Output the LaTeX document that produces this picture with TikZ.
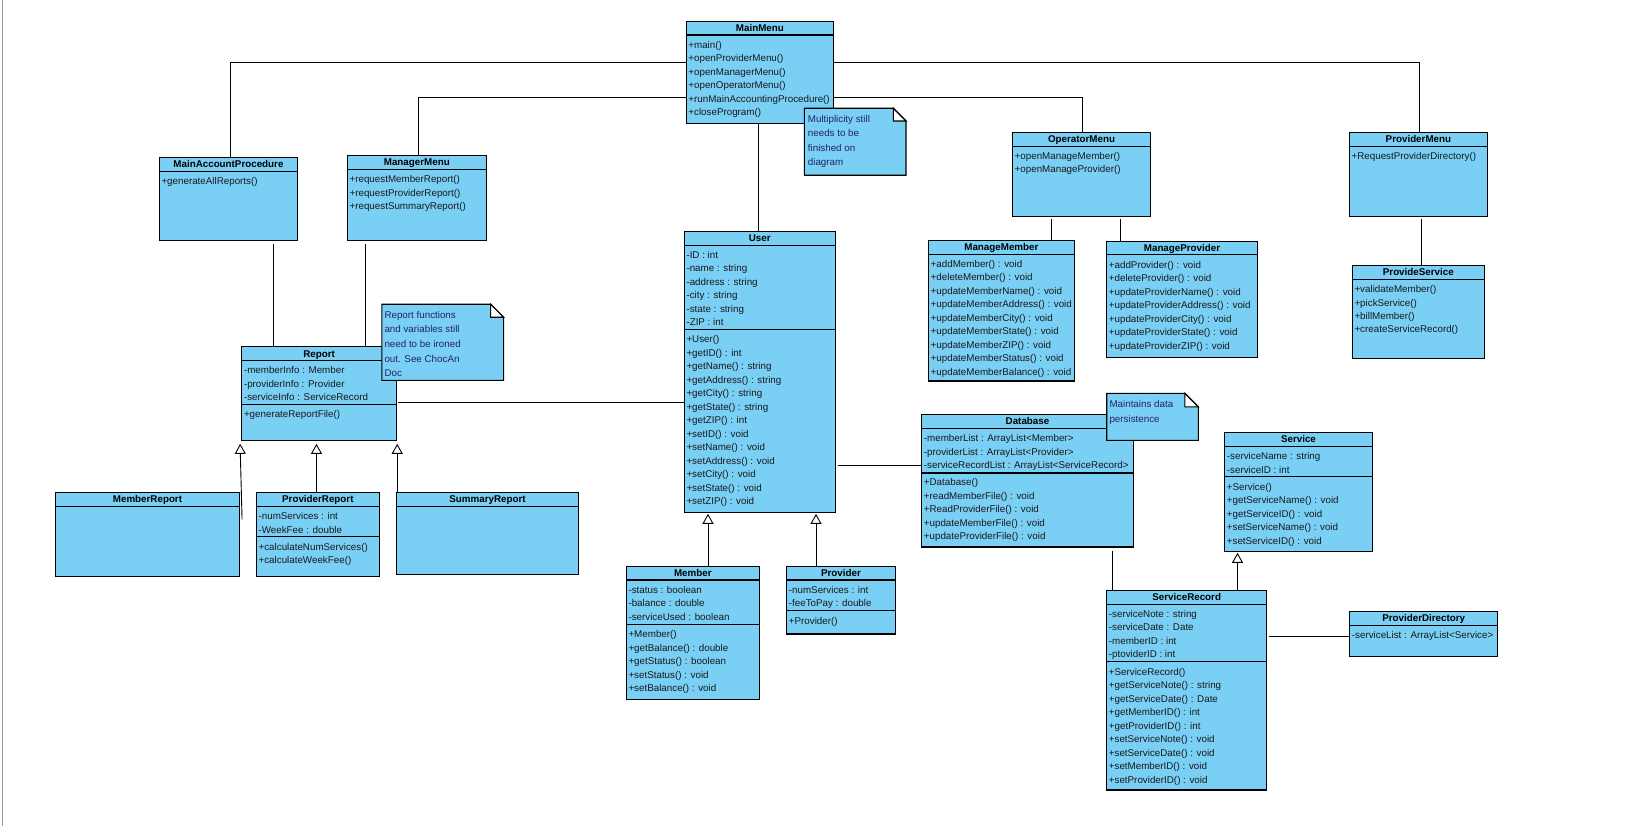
\documentclass[tikz,border=0pt]{standalone}
\usepackage{fontspec}
\setmainfont{Liberation Sans}
\usetikzlibrary{fit,arrows.meta}
\definecolor{umlblue}{RGB}{122,207,245}
\definecolor{membertxt}{RGB}{25,25,25}
\definecolor{notetxt}{RGB}{35,35,100}
\definecolor{edgegray}{RGB}{150,150,160}
\tikzset{
 clsbox/.style={draw=black, line width=1.1pt, fill=umlblue, inner sep=0pt},
 clsline/.style={draw=black, line width=1.1pt},
 ttl/.style={font=\fontsize{9.8}{12}\selectfont\bfseries, anchor=base, inner sep=0pt},
 mem/.style={font=\fontsize{9.8}{12}\selectfont, text=membertxt, anchor=base west, inner sep=0pt},
 ntxt/.style={font=\fontsize{9.8}{12}\selectfont, text=notetxt, anchor=base west, inner sep=0pt},
 notearea/.style={inner sep=0pt},
 notebox/.style={draw=black, line width=1.1pt, fill=umlblue},
 notefold/.style={draw=black, line width=1.1pt, fill=white},
 conn/.style={draw=black, line width=0.9pt},
 gen/.style={conn, shorten >=1pt, -{Triangle[open, width=11pt, length=10pt]}},
}
% name, x1, y1, x2, y2, title, header-bottom
\newcommand\umlclass[7]{%
 \node[clsbox, fit={(#2,#3) (#4,#5)}] (#1) {};
 \draw[clsline] (#2,#7) -- (#4,#7);
 \node[ttl] (#1T) at ({(#2+#4)/2},{(#3+#7)/2+3.5}) {#6};
}
\newcommand\umlsep[3]{\draw[clsline] (#1,#3) -- (#2,#3);}
% name prefix, x1, first y, list
\newcommand\umllines[4]{%
 \foreach \t [count=\i from 0] in {#4} {\node[mem] (#1\i) at (#2+2, #3+13.5*\i+3.8) {\t};}}
% name, x1, y1, x2, y2, fold
\newcommand\umlnote[6]{%
 \filldraw[notebox] (#2,#3) -- (#4-#6,#3) -- (#4,#3+#6) -- (#4,#5) -- (#2,#5) -- cycle;
 \filldraw[notefold] (#4-#6,#3) -- (#4-#6,#3+#6) -- (#4,#3+#6) -- cycle;
 \node[notearea, fit={(#2,#3) (#4,#5)}] (#1) {};
}
% name prefix, x, first y, step, list
\newcommand\notelines[5]{%
 \foreach \t [count=\i from 0] in {#5} {\node[ntxt] (#1\i) at (#2, #3+#4*\i+3.8) {\t};}}

\begin{document}
\begin{tikzpicture}[x=1pt,y=-1pt]
\useasboundingbox (0,0) rectangle (1649,826);
\fill[white] (0,0) rectangle (1649,826);
\draw[edgegray, line width=1.5pt] (2.3,0) -- (2.3,826);

% ---------- classes ----------
\umlclass{MainMenu}{686.2}{21.3}{833.6}{123.3}{MainMenu}{35}
\umllines{MainMenuM}{686.2}{44.3}{+main(),+openProviderMenu(),+openManagerMenu(),+openOperatorMenu(),+runMainAccountingProcedure(),+closeProgram()}

\umlclass{MAP}{159.3}{157.3}{297.6}{240.8}{MainAccountProcedure}{171.7}
\umllines{MAPM}{159.3}{181}{+generateAllReports()}

\umlclass{ManagerMenu}{347.4}{155.3}{486.2}{240.8}{ManagerMenu}{169.3}
\umllines{ManagerMenuM}{347.4}{179}{+requestMemberReport(),+requestProviderReport(),+requestSummaryReport()}

\umlclass{Report}{241.8}{346.7}{396.4}{440.3}{Report}{360.3}
\umllines{ReportA}{241.8}{369.7}{-memberInfo : Member,-providerInfo : Provider,-serviceInfo : ServiceRecord}
\umlsep{241.8}{396.4}{404.7}
\umllines{ReportM}{241.8}{414}{+generateReportFile()}

\umlclass{MemberReport}{55.5}{492.3}{239.5}{576.3}{MemberReport}{506.3}

\umlclass{ProviderReport}{256.4}{492.3}{379.3}{576.3}{ProviderReport}{506.3}
\umllines{ProviderReportA}{256.4}{515.7}{-numServices : int,-WeekFee : double}
\umlsep{256.4}{379.3}{536.7}
\umllines{ProviderReportM}{256.4}{546.3}{+calculateNumServices(),+calculateWeekFee()}

\umlclass{SummaryReport}{396.5}{492.3}{578.6}{574.3}{SummaryReport}{506.3}

\umlclass{User}{684.3}{231.3}{835.3}{512.3}{User}{245.3}
\umllines{UserA}{684.3}{254.3}{-ID : int,-name : string,-address : string,-city : string,-state : string,-ZIP : int}
\umlsep{684.3}{835.3}{329.3}
\umllines{UserM}{684.3}{339.1}{+User(),+getID() : int,+getName() : string,+getAddress() : string,+getCity() : string,+getState() : string,+getZIP() : int,+setID() : void,+setName() : void,+setAddress() : void,+setCity() : void,+setState() : void,+setZIP() : void}

\umlclass{Member}{626.3}{566.7}{759.3}{699.3}{Member}{580}
\umllines{MemberA}{626.3}{589.3}{-status : boolean,-balance : double,-serviceUsed : boolean}
\umlsep{626.3}{759.3}{624.3}
\umllines{MemberM}{626.3}{634}{+Member(),+getBalance() : double,+getStatus() : boolean,+setStatus() : void,+setBalance() : void}

\umlclass{Provider}{786.7}{566.7}{895.3}{634}{Provider}{580}
\umllines{ProviderA}{786.7}{589.3}{-numServices : int,-feeToPay : double}
\umlsep{786.7}{895.3}{610.7}
\umllines{ProviderM}{786.7}{620.3}{+Provider()}

\umlclass{OperatorMenu}{1012.5}{132.3}{1150.6}{216.3}{OperatorMenu}{146.3}
\umllines{OperatorMenuM}{1012.5}{155.7}{+openManageMember(),+openManageProvider()}

\umlclass{ProviderMenu}{1349.4}{132.3}{1487.4}{216.3}{ProviderMenu}{146.3}
\umllines{ProviderMenuM}{1349.4}{155.7}{+RequestProviderDirectory()}

\umlclass{ManageMember}{928.5}{240.3}{1074.3}{381}{ManageMember}{254.3}
\umllines{ManageMemberM}{928.5}{263.4}{+addMember() : void,+deleteMember() : void,+updateMemberName() : void,+updateMemberAddress() : void,+updateMemberCity() : void,+updateMemberState() : void,+updateMemberZIP() : void,+updateMemberStatus() : void,+updateMemberBalance() : void}

\umlclass{ManageProvider}{1106.7}{241.2}{1257.3}{357.7}{ManageProvider}{254.6}
\umllines{ManageProviderM}{1106.7}{264.3}{+addProvider() : void,+deleteProvider() : void,+updateProviderName() : void,+updateProviderAddress() : void,+updateProviderCity() : void,+updateProviderState() : void,+updateProviderZIP() : void}

\umlclass{ProvideService}{1352.3}{265.3}{1484.3}{358.3}{ProvideService}{279.3}
\umllines{ProvideServiceM}{1352.3}{288.7}{+validateMember(),+pickService(),+billMember(),+createServiceRecord()}

\umlclass{Database}{921.7}{414.3}{1133.3}{547}{Database}{428.3}
\umllines{DatabaseA}{921.7}{437.7}{-memberList : ArrayList<Member>,-providerList : ArrayList<Provider>,-serviceRecordList : ArrayList<ServiceRecord>}
\umlsep{921.7}{1133.3}{473}
\umllines{DatabaseM}{921.7}{482}{+Database(),+readMemberFile() : void,+ReadProviderFile() : void,+updateMemberFile() : void,+updateProviderFile() : void}

\umlclass{Service}{1224.7}{432.3}{1372.3}{551.3}{Service}{446.3}
\umllines{ServiceA}{1224.7}{455.8}{-serviceName : string,-serviceID : int}
\umlsep{1224.7}{1372.3}{476.7}
\umllines{ServiceM}{1224.7}{486.5}{+Service(),+getServiceName() : void,+getServiceID() : void,+setServiceName() : void,+setServiceID() : void}

\umlclass{ServiceRecord}{1106.7}{590.3}{1266.7}{790}{ServiceRecord}{604.3}
\umllines{ServiceRecordA}{1106.7}{613.5}{-serviceNote : string,-serviceDate : Date,-memberID : int,-ptoviderID : int}
\umlsep{1106.7}{1266.7}{661.3}
\umllines{ServiceRecordM}{1106.7}{671.2}{+ServiceRecord(),+getServiceNote() : string,+getServiceDate() : Date,+getMemberID() : int,+getProviderID() : int,+setServiceNote() : void,+setServiceDate() : void,+setMemberID() : void,+setProviderID() : void}

\umlclass{ProviderDirectory}{1349.7}{611.3}{1497.7}{656.3}{ProviderDirectory}{625.3}
\umllines{ProviderDirectoryA}{1349.7}{634.7}{-serviceList : ArrayList<Service>}

% ---------- connectors ----------
\draw[conn] (MainMenu.west |- 0,62.3) -| (MAP.north -| 230.4,0);
\draw[conn] (MainMenu.west |- 0,97.3) -| (ManagerMenu.north -| 418.4,0);
\draw[conn] (MainMenu.east |- 0,62.3) -| (ProviderMenu.north -| 1419.2,0);
\draw[conn] (MainMenu.east |- 0,97.3) -| (OperatorMenu.north -| 1082.4,0);
\draw[conn] (MainMenu.south -| 758,0) -- (User.north -| 758,0);
\draw[conn, shorten <=3pt] (MAP.south -| 273.2,0) -- (Report.north -| 273.2,0);
\draw[conn, shorten <=3pt] (ManagerMenu.south -| 365.4,0) -- (Report.north -| 365.4,0);
\draw[conn, shorten <=1.5pt] (Report.east |- 0,402.3) -- (User.west |- 0,402.3);
\draw[conn, shorten <=2pt] (User.east |- 0,465.5) -- (Database.west |- 0,465.5);
\draw[conn, shorten <=2pt] (OperatorMenu.south -| 1051.5,0) -- (ManageMember.north -| 1051.5,0);
\draw[conn, shorten <=2pt] (OperatorMenu.south -| 1120.6,0) -- (ManageProvider.north -| 1120.6,0);
\draw[conn, shorten <=2pt] (ProviderMenu.south -| 1421.5,0) -- (ProvideService.north -| 1421.5,0);
\draw[conn, shorten <=3pt] (Database.south -| 1112.3,0) -- (ServiceRecord.north -| 1112.3,0);
\draw[conn, shorten <=2pt] (ServiceRecord.east |- 0,636.3) -- (ProviderDirectory.west |- 0,636.3);
\draw[gen] (ServiceRecord.north -| 1237.5,0) -- (Service.south -| 1237.5,0);
\draw[gen] (Member.north -| 708,0) -- (User.south -| 708,0);
\draw[gen] (Provider.north -| 816,0) -- (User.south -| 816,0);
\draw[gen, shorten >=3pt] ([xshift=2pt]MemberReport.east |- 0,519.3) -- (Report.south -| 240,0);
\draw[gen, shorten >=3pt] (ProviderReport.north -| 316.5,0) -- (Report.south -| 316.5,0);
\draw[gen, shorten >=3pt] (SummaryReport.north -| 397.2,0) -- (Report.south -| 397.2,0);

% ---------- notes ----------
\umlnote{NoteMult}{804.3}{108.3}{906}{175.3}{12.7}
\notelines{NoteMultL}{807.7}{119}{14.2}{Multiplicity still,needs to be,finished on,diagram}

\umlnote{NoteReport}{381.8}{304.3}{503.6}{380.3}{13}
\notelines{NoteReportL}{384.3}{314.7}{14.5}{Report functions,and variables still,need to be ironed,out. See ChocAn,Doc}

\umlnote{NoteDB}{1106.7}{393.3}{1198.3}{440.3}{13.5}
\notelines{NoteDBL}{1109.3}{403.7}{15}{Maintains data,persistence}
\end{tikzpicture}
\end{document}
